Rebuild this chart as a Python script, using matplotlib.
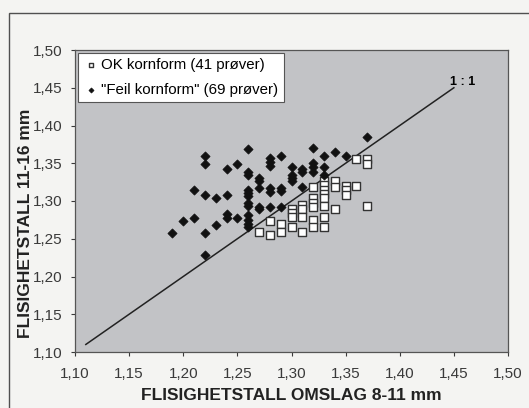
import numpy as np
import matplotlib.pyplot as plt
from matplotlib.patches import Rectangle

plt.rcParams['font.family'] = ['Liberation Sans', 'DejaVu Sans']

# "OK kornform" samples (open squares)
ok_x = [1.27, 1.28, 1.28, 1.29, 1.29, 1.30, 1.30, 1.30, 1.30,
        1.31, 1.31, 1.31, 1.31, 1.32, 1.32, 1.32, 1.32, 1.32, 1.32,
        1.33, 1.33, 1.33, 1.33, 1.33, 1.33, 1.33, 1.33,
        1.34, 1.34, 1.34, 1.35, 1.35, 1.35, 1.36, 1.36, 1.37, 1.37, 1.37]
ok_y = [1.259, 1.274, 1.255, 1.269, 1.259, 1.290, 1.284, 1.279, 1.265,
        1.295, 1.289, 1.279, 1.259, 1.319, 1.304, 1.298, 1.292, 1.275, 1.265,
        1.326, 1.321, 1.315, 1.309, 1.304, 1.293, 1.279, 1.265,
        1.326, 1.319, 1.290, 1.320, 1.314, 1.308, 1.355, 1.320, 1.355, 1.349, 1.293]

# "Feil kornform" samples (filled diamonds)
feil_x = [1.19, 1.20, 1.21, 1.21,
          1.22, 1.22, 1.22, 1.22, 1.22,
          1.23, 1.23, 1.24, 1.24, 1.24, 1.24, 1.25, 1.25,
          1.26, 1.26, 1.26, 1.26, 1.26, 1.26, 1.26, 1.26, 1.26, 1.26, 1.26, 1.26,
          1.27, 1.27, 1.27, 1.27, 1.27,
          1.28, 1.28, 1.28, 1.28, 1.28, 1.28,
          1.29, 1.29, 1.29, 1.29,
          1.30, 1.30, 1.30, 1.30,
          1.31, 1.31, 1.31,
          1.32, 1.32, 1.32, 1.32,
          1.33, 1.33, 1.33,
          1.34, 1.35, 1.37]
feil_y = [1.258, 1.273, 1.278, 1.314,
          1.359, 1.349, 1.308, 1.258, 1.229,
          1.304, 1.268, 1.342, 1.308, 1.283, 1.278, 1.349, 1.278,
          1.369, 1.339, 1.334, 1.315, 1.311, 1.306, 1.298, 1.294, 1.282, 1.275, 1.270, 1.265,
          1.330, 1.326, 1.317, 1.292, 1.289,
          1.357, 1.352, 1.346, 1.317, 1.312, 1.292,
          1.360, 1.317, 1.313, 1.292,
          1.345, 1.334, 1.330, 1.326,
          1.343, 1.339, 1.319,
          1.370, 1.350, 1.345, 1.339,
          1.360, 1.345, 1.334,
          1.365, 1.360, 1.385]

ticks = [1.10, 1.15, 1.20, 1.25, 1.30, 1.35, 1.40, 1.45, 1.50]
tick_labels = [f"{t:.2f}".replace('.', ',') for t in ticks]

fig = plt.figure(figsize=(5.29, 4.08), dpi=100)
fig.patch.set_facecolor('#f4f4f2')
fig.patches.append(Rectangle((9 / 529, -0.01), 1.0, 1 - 13 / 408 + 0.01,
                             transform=fig.transFigure, fill=False,
                             edgecolor='#505050', linewidth=1.0))

ax = fig.add_axes([75 / 529, 1 - 352 / 408, 433 / 529, 302 / 408])
ax.set_facecolor('#c2c3c6')

ax.plot([1.11, 1.45], [1.11, 1.45], color='#222222', linewidth=1.1, zorder=2)
ax.text(1.446, 1.457, '1 : 1', fontsize=9, fontweight='bold', ha='left', va='center')

ax.scatter(ok_x, ok_y, marker='s', s=28, facecolor='white', edgecolor='#333333',
           linewidth=1.0, zorder=3, label='OK kornform (41 prøver)')
ax.scatter(feil_x, feil_y, marker='D', s=22, facecolor='#111111', edgecolor='#111111',
           linewidth=0.5, zorder=4, label='"Feil kornform" (69 prøver)')

ax.set_xlim(1.10, 1.50)
ax.set_ylim(1.10, 1.50)
ax.set_xticks(ticks)
ax.set_xticklabels(tick_labels)
ax.set_yticks(ticks)
ax.set_yticklabels(tick_labels)
ax.tick_params(labelsize=11, colors='#3a3a3a', length=3, width=0.8)
ax.tick_params(axis='x', pad=8)
ax.tick_params(axis='y', pad=6)
for sp in ax.spines.values():
    sp.set_color('#555555')
    sp.set_linewidth(0.9)

ax.set_xlabel('FLISIGHETSTALL OMSLAG 8-11 mm', fontsize=12.5, fontweight='bold',
              color='#222222')
ax.xaxis.set_label_coords(0.5, -0.119)
ax.set_ylabel('FLISIGHETSTALL 11-16 mm', fontsize=12.5, fontweight='bold',
              color='#222222')
ax.yaxis.set_label_coords(-0.097, 0.427)

leg = ax.legend(loc='upper left', bbox_to_anchor=(0.007, 0.99), fontsize=10.8,
                frameon=True, fancybox=False, framealpha=1, edgecolor='#555555',
                handletextpad=0.2, handlelength=1.0, markerscale=0.55,
                borderpad=0.35, labelspacing=0.7, borderaxespad=0)
leg.get_frame().set_linewidth(0.8)

fig.savefig('out.png', dpi=100, facecolor=fig.get_facecolor())
